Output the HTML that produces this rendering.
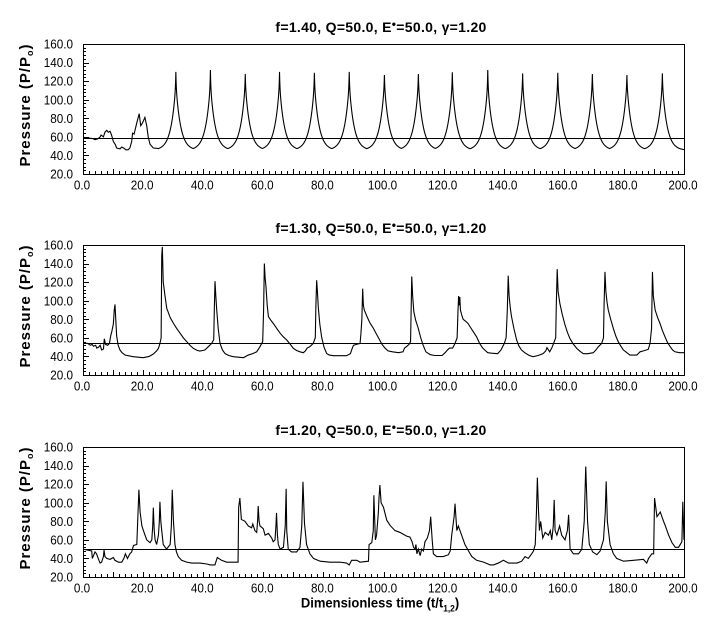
<!DOCTYPE html>
<html><head><meta charset="utf-8">
<style>
html,body{margin:0;padding:0;background:#fff;}
svg{display:block}
text{font-family:"Liberation Sans",sans-serif;fill:#000;}
</style></head>
<body>
<svg id="s" width="707" height="639" viewBox="0 0 707 639" xmlns="http://www.w3.org/2000/svg"></svg>
<script>
(function(){
var X0=83,X1=684,XS=(X1-X0)/200;
function px(t){return X0+t*XS;}
function mk(top,bot){return function(p){return bot-(p-20)*(bot-top)/140;};}

var topIrr=[[0,59.5],[1.2,59],[3.4,58],[4,57],[5,58],[5.7,60],[6,62],[6.8,60],[7.3,65],[7.9,67],[8.4,65],[9,66],[9.5,62],[10.1,55],[10.7,52],[11.2,48],[12.3,47],[12.9,49],[13.5,48],[14.3,46],[15,46],[15.6,48],[16.2,55],[16.5,64],[17,63],[17.9,75],[18.7,85],[19.2,72],[19.8,75],[20.6,81],[21.2,72],[21.7,60],[22.3,52],[23.4,48],[24.9,47.5]];
var pk=[[30.9,130],[42.4,132],[54.0,127.7],[65.4,130],[77.0,129],[88.6,130],[100.3,126.6],[111.6,127.7],[122.9,129.5],[134.7,132],[146.3,128.4],[158.0,129],[169.5,127.7],[181.0,126.6],[192.8,128.4]];
var d1=topIrr.slice();
for(var t=25;t<=200.001;t+=0.05){
  var best=null,bd=1e9;
  for(var i=0;i<pk.length;i++){var d=Math.abs(t-pk[i][0]);if(d<bd){bd=d;best=pk[i];}}
  var P=45.5+71*Math.exp(-bd/1.6)+(best[1]-116.5)*Math.exp(-bd/0.12);
  d1.push([t,P]);
}

var d2=[[0,54.5],[1.5,54],[2.5,52],[3,53],[3.5,51],[4.2,52],[4.6,49],[5.2,50],[5.7,52],[6.2,47],[6.8,48],[7.1,59],[7.5,53],[8.2,52],[8.8,54],[9.2,62],[9.6,67],[10.1,75],[10.4,90],[10.65,96],[10.9,80],[11.2,62],[11.7,52],[12.3,47],[13,44],[14,41.5],[16.7,39.7],[20,38.7],[22,40],[23.4,42.6],[24.5,46],[25.1,48.7],[25.6,54],[26.0,60],[26.2,148],[26.4,158],[26.7,120],[27.3,105],[27.85,92],[29,82],[30.1,75.6],[31.2,70],[32.3,65],[33.4,60],[34.5,56],[35.6,52],[36.7,48.7],[38,46.5],[38.9,45.8],[40,46.5],[40.6,47],[41.7,50.5],[42.8,54],[43.5,58],[43.7,90],[43.93,121],[44.2,105],[44.5,90],[45,70],[45.6,54],[46.4,47],[47.3,43],[48.5,41],[50,39.7],[53.4,38.7],[55,41.5],[56.5,43],[57.8,45],[58.9,50.5],[59.8,56],[60.1,90],[60.35,140],[60.6,125],[60.9,115],[61.3,95],[61.7,83],[62.5,79],[63.3,75.6],[64.5,70],[65.6,65],[66.7,61],[67.8,57.7],[69,53],[70,48.7],[71,46.5],[72.2,45],[73.3,44],[74,46],[74.6,49],[75.5,50.5],[76.6,54],[77.3,60],[77.5,95],[77.76,122],[78.0,110],[78.3,93],[78.8,75],[79.4,61],[80.2,50],[81.1,43],[82,41.5],[83.3,40.8],[87.7,40.8],[89,43],[89.4,47],[90,52],[91,53],[92.2,54],[92.5,65],[92.8,80],[93.07,113],[93.3,95],[93.6,90],[94.5,83],[95.5,76],[96.5,71],[97.5,65],[98.5,59],[99.5,53],[100.5,49],[101.5,46],[103,45],[105,44],[106.5,45],[107,49],[107.8,51],[108.5,53],[109,56],[109.2,90],[109.4,126],[109.7,105],[110.1,88],[110.7,79],[111.5,71],[112.4,60],[113.2,52],[114.1,45],[115.5,42],[117,41],[119.5,41],[120.5,44],[121.3,47],[122,49],[123,49],[123.8,54],[124.5,60],[124.8,90],[125.0,105],[125.2,95],[125.4,104],[125.6,90],[126,85],[126.5,80],[127.3,78],[128.1,75.6],[129,71],[130,66],[131,61],[132,54],[133,49],[134,46],[134.7,44],[136,43.5],[138,43],[139.1,47],[140.2,54],[140.8,60],[141.2,90],[141.5,127],[141.8,105],[142.2,92],[142.6,83],[143.4,70],[144.3,57.7],[145.1,51],[145.9,47],[147,44],[148.5,41],[149.8,39.7],[151.5,41],[153.1,43],[154,46],[154.4,49.4],[154.9,47],[155.3,45],[156,49],[156.6,54],[157.3,60],[157.5,95],[157.8,134],[158.1,110],[158.7,97],[159.5,85],[160.4,74],[161.2,66],[162,59.5],[163,54],[164.3,48.7],[165.4,45.5],[166.5,43],[168,43],[169.8,44],[170.7,47],[171.5,50.5],[172.6,54],[173.2,60],[173.4,95],[173.7,131],[174,110],[174.4,98],[174.8,90],[175.6,80],[176.5,70],[177.3,62],[178.1,56],[179,51],[179.8,47],[181,44],[182,41.5],[184.3,41.5],[185.4,45],[186.5,46],[188.1,47.6],[188.7,54],[189.2,70],[189.5,131],[189.8,105],[190.4,90],[191.2,82],[192,75.6],[192.8,68],[193.7,61],[194.5,55],[195.4,50.5],[196.2,47],[197,45],[198.5,44],[200,44]];

var d3=[[0,50],[1.5,49],[2.9,48],[3.1,40],[4.0,47],[4.5,45],[5.3,38],[5.7,35],[6.2,36],[6.8,42],[7.0,49],[7.3,42],[7.9,40],[9.0,39],[10.1,41],[10.6,38],[11.8,36],[12.9,36],[13.6,40],[14.1,45],[14.8,40],[15.6,45],[16.2,47],[16.8,54],[17.9,55],[18.2,80],[18.6,114],[19.0,90],[19.6,75],[20.1,70],[21.2,60],[22.3,57],[22.9,60],[23.2,75],[23.4,94.7],[23.7,70],[24.0,60],[24.5,55],[25.1,65],[25.4,80],[25.6,101],[25.9,80],[26.2,70],[26.7,55],[27.8,50],[29.0,55],[29.4,75],[29.7,114],[30.1,80],[30.6,55],[31.1,47],[31.7,42],[32.8,38],[34.5,36],[36.2,35],[38.9,35],[41.2,34],[42.3,33],[43.9,33],[44.7,41],[46.1,38],[47.8,36],[51.1,36],[51.6,36],[51.8,95],[52.2,105],[52.7,82],[53.9,80],[55.0,75],[56.1,73],[56.5,77],[57.2,70],[57.8,68],[58.1,80],[58.3,96.5],[58.6,80],[58.9,75],[60.0,72],[60.6,65],[61.7,67],[62.8,62],[63.3,58],[63.9,60],[64.2,75],[64.4,89],[64.7,65],[65.0,55],[65.6,50],[66.7,52],[67.3,75],[67.6,115],[67.8,70],[68.3,50],[69.4,47],[71.1,47],[72.2,52],[72.8,75],[73.2,122.6],[73.7,78],[74.4,55],[75.5,45],[76.7,40],[78.9,37],[82.2,36],[85.5,36],[87.7,35],[88.6,33],[89.4,38],[91.1,38],[92.2,36],[95.0,37],[95.2,55],[96.1,57],[96.6,70],[96.8,108],[97.3,60],[97.7,65],[98.3,90],[98.5,105],[98.8,119],[99.2,100],[100,95],[101.1,81],[102.2,75.5],[103.8,70],[105.5,68],[107.7,64],[108.8,63],[109.5,58],[110,52],[110.5,50],[110.8,55],[111.1,45],[111.6,50],[112.2,43],[112.7,50],[113.3,48],[113.8,58],[114.6,62],[115.3,70],[115.7,85],[116.2,60],[116.6,45],[117.7,42],[119.9,42],[121.6,44],[122.2,48],[122.7,65],[123.5,85],[123.8,99],[124.4,70],[124.9,75],[126,65],[127.1,55],[128.3,48],[129.4,42],[131.0,38],[133.3,36],[135.5,33],[136.6,33],[138.2,35],[139.9,38],[141.6,35],[144.4,35],[146,37],[147.1,42],[148.2,40],[149.3,45],[149.9,48],[150.5,55],[150.9,90],[151.2,127],[151.6,90],[151.9,70],[152.3,80],[153,62],[153.8,68],[154.9,65],[155.5,70],[156,60],[156.5,75],[156.8,103],[157.1,70],[157.7,65],[158.6,75],[159.3,65],[160.4,60],[161.2,70],[161.6,87],[162.1,50],[163.2,45],[164.9,45],[166,50],[166.8,80],[167.3,139],[167.9,80],[168.5,55],[169.6,47],[171,44],[172.1,48],[173.2,60],[173.8,90],[174.1,123],[174.5,80],[175.4,55],[176.5,45],[177.6,40],[179.9,37],[183.2,38],[186.5,39],[187.6,35],[188.2,40],[189.3,45],[189.9,45],[190.2,105],[191,85],[192.1,90],[193.2,80],[193.8,75],[194.9,65],[196,57],[197.1,52],[198.2,52],[199.3,58],[199.6,101],[200,60]];

var panels=[
 {top:44,bot:174,f:'1.40',ref:59,data:d1},
 {top:245,bot:375,f:'1.30',ref:54.5,data:d2},
 {top:447,bot:577,f:'1.20',ref:50.2,data:d3}
];
var s='';
panels.forEach(function(pn){
  var py=mk(pn.top,pn.bot);
  s+='<rect x="83.5" y="'+(pn.top+0.5)+'" width="601" height="'+(pn.bot-pn.top)+'" fill="none" stroke="#000" stroke-width="1" shape-rendering="crispEdges"/>';
  var tk='';
  for(var p=20;p<=160;p+=4){
    var y=Math.round(py(p))+0.5; var L=((p-20)%20===0)?5:2;
    tk+='M84 '+y+'h'+L;
  }
  for(var t=0;t<=200;t+=2){
    var x=Math.round(px(t))+0.5; var L=(t%10===0)?5:3;
    tk+='M'+x+' '+(pn.bot)+'v-'+L;
  }
  s+='<path d="'+tk+'" stroke="#000" stroke-width="1" fill="none" shape-rendering="crispEdges"/>';
  for(var p=20;p<=160;p+=20){
    s+='<text transform="translate(73,'+(py(p)+4.6).toFixed(1)+') scale(0.9,1)" text-anchor="end" font-size="13">'+p+'.0</text>';
  }
  for(var t=0;t<=200;t+=20){
    s+='<text transform="translate('+(px(t)-1).toFixed(1)+','+(pn.bot+15.5)+') scale(0.9,1)" text-anchor="middle" font-size="13">'+t+'.0</text>';
  }
  var ry=Math.round(py(pn.ref))+0.5;
  s+='<line x1="84" x2="684" y1="'+ry+'" y2="'+ry+'" stroke="#000" stroke-width="1" shape-rendering="crispEdges"/>';
  var d='';
  pn.data.forEach(function(q,i){d+=(i?'L':'M')+px(q[0]).toFixed(2)+' '+py(q[1]).toFixed(2);});
  s+='<path d="'+d+'" fill="none" stroke="#000" stroke-width="1.1" stroke-linejoin="miter"/>';
  s+='<text x="381" y="'+(pn.top-12)+'" text-anchor="middle" font-size="14" font-weight="bold" letter-spacing="0.3">f='+pn.f+', Q=50.0, E<tspan dy="-4" font-size="12">&#8226;</tspan><tspan dy="4">=50.0, &#947;=1.20</tspan></text>';
  var cy=(pn.top+pn.bot)/2-4;
  s+='<text transform="translate(30,'+cy+') rotate(-90)" text-anchor="middle" font-size="15" font-weight="bold" letter-spacing="1">Pressure (P/P<tspan dy="3" font-size="9">o</tspan><tspan dy="-3">)</tspan></text>';
});
s+='<text transform="translate(380,607.5) scale(0.93,1)" text-anchor="middle" font-size="14" font-weight="bold">Dimensionless time (t/t<tspan dy="4" font-size="9">1,2</tspan><tspan dy="-4">)</tspan></text>';
document.getElementById('s').innerHTML=s;
})();
</script>
</body></html>
